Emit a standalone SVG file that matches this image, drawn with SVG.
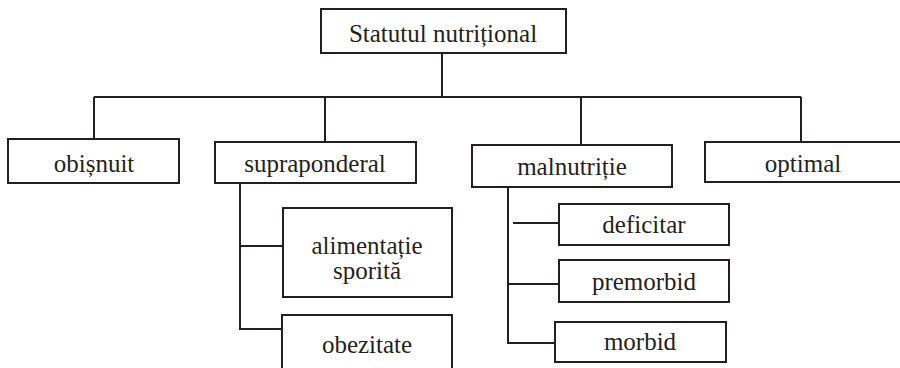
<svg xmlns="http://www.w3.org/2000/svg" width="900" height="368" viewBox="0 0 900 368">
<style>
rect{fill:#fff;stroke:#231f20;stroke-width:2}
text{font-family:"Times New Roman","Liberation Serif","DejaVu Serif",serif;font-size:25px;fill:#231f20;text-anchor:middle}
.c line,.c path{stroke:#231f20;stroke-width:2;fill:none}
</style>
<rect x="0" y="0" width="900" height="368" style="stroke:none"/>
<g class="c" id="connectors">
<line x1="442" y1="53" x2="442" y2="97"/>
<line x1="94" y1="97" x2="801" y2="97"/>
<line x1="94" y1="97" x2="94" y2="139"/>
<line x1="325" y1="97" x2="325" y2="142"/>
<line x1="581" y1="97" x2="581" y2="145"/>
<line x1="801" y1="97" x2="801" y2="142"/>
<path d="M240 183 V329 H282"/>
<line x1="240" y1="246" x2="283" y2="246"/>
<path d="M508 187 V343 H555"/>
<line x1="513" y1="223" x2="559" y2="223"/>
<line x1="508" y1="284" x2="559" y2="284"/>
</g>
<g id="statutul"><rect x="321" y="9" width="245" height="44"/><text x="443" y="42">Statutul nutrițional</text></g>
<g id="obisnuit"><rect x="8" y="139" width="171" height="44"/><text x="94" y="172">obișnuit</text></g>
<g id="supraponderal"><rect x="215" y="142" width="201" height="41"/><text x="315" y="172">supraponderal</text></g>
<g id="malnutritie"><rect x="472" y="145" width="200" height="42"/><text x="572" y="175">malnutriție</text></g>
<g id="optimal"><rect x="705" y="142" width="210" height="40"/><text x="803" y="172">optimal</text></g>
<g id="alimentatie"><rect x="283" y="208" width="169" height="89"/><text x="367" y="254">alimentație</text><text x="367" y="279">sporită</text></g>
<g id="obezitate"><rect x="282" y="315" width="170" height="70"/><text x="367" y="353">obezitate</text></g>
<g id="deficitar"><rect x="559" y="204" width="170" height="41"/><text x="644" y="233">deficitar</text></g>
<g id="premorbid"><rect x="559" y="260" width="170" height="42"/><text x="644" y="290">premorbid</text></g>
<g id="morbid"><rect x="555" y="322" width="171" height="40"/><text x="640" y="350">morbid</text></g>
</svg>
